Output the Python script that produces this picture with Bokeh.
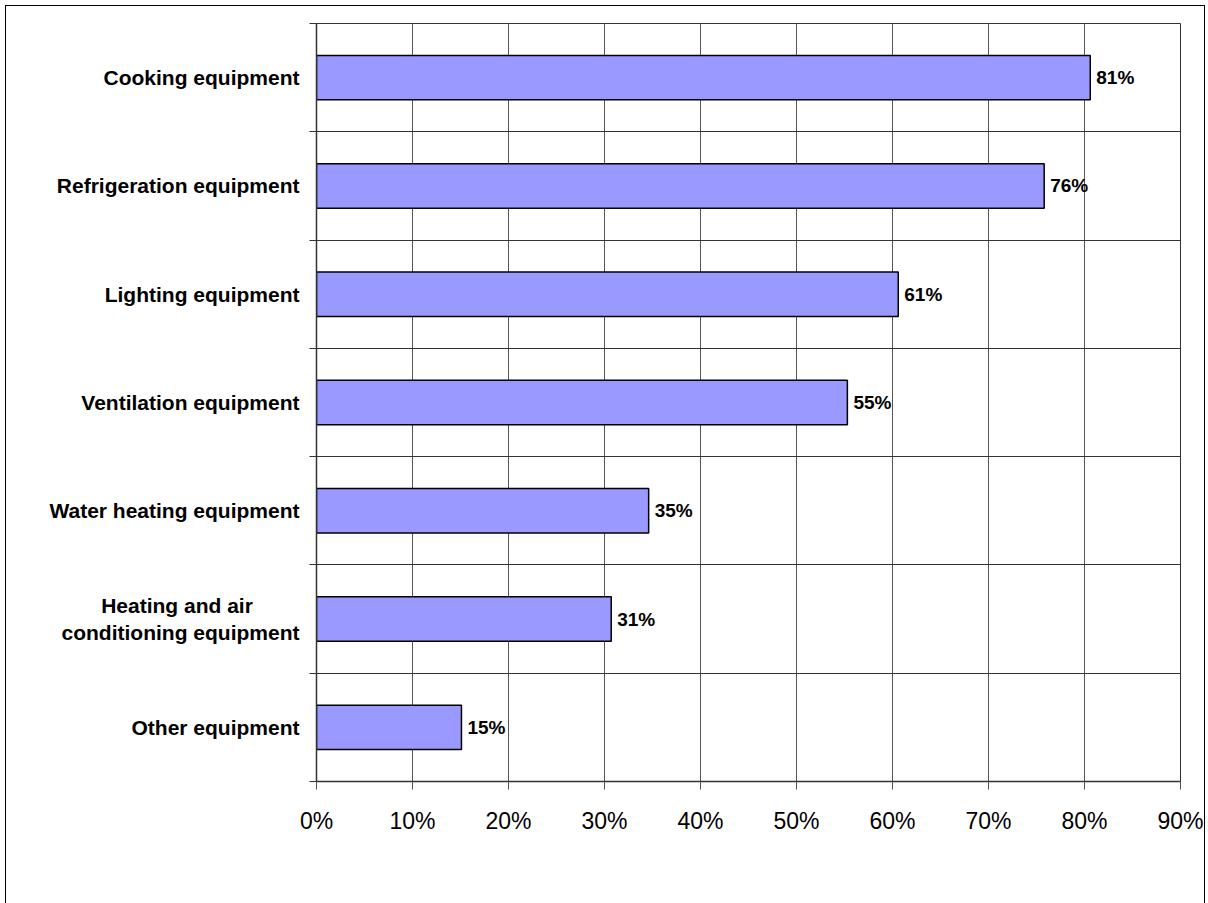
from bokeh.plotting import figure
from bokeh.models import ColumnDataSource, FixedTicker, Range1d
from bokeh.core.properties import value
from bokeh.embed import file_html
from bokeh.resources import INLINE

NBSP = "\u00a0"
categories = ["Cooking equipment", "Refrigeration equipment", "Lighting equipment",
              "Ventilation equipment", "Water heating equipment",
              "Heating and air" + NBSP * 8 + "\nconditioning equipment", "Other equipment"]
shares = [80.6, 75.8, 60.6, 55.3, 34.6, 30.7, 15.1]
x_ticks = [0, 10, 20, 30, 40, 50, 60, 70, 80, 90]
x_tick_labels = ["0%", "10%", "20%", "30%", "40%", "50%", "60%", "70%", "80%", "90%"]

n = len(categories)
ypos = [n - i - 0.5 for i in range(n)]
src = ColumnDataSource(dict(
    y=ypos, v=shares, lab=[f"{round(s):d}%" for s in shares],
))

FONT = "Liberation Sans"

p = figure(width=1200, height=900, output_backend="svg", toolbar_location=None,
           x_range=Range1d(0, 90), y_range=Range1d(0, n),
           min_border_left=310, min_border_right=26, min_border_top=17,
           min_border_bottom=125,
           margin=(5, 5, 5, 5),
           styles={"border": "1px solid black"})
p.outline_line_color = "#333333"
p.outline_line_width = 1
p.background_fill_color = "white"
p.border_fill_color = "white"

p.hbar(y="y", right="v", left=0, height=0.41, source=src,
       fill_color="#9999FF", line_color="black", line_width=1.5)
p.text(x="v", y="y", text="lab", source=src, x_offset=6,
       text_font=value(FONT), text_font_style="bold", text_font_size="19px",
       text_align="left", text_baseline="middle", text_color="black")

# x axis
xa = p.xaxis[0]
xa.ticker = FixedTicker(ticks=x_ticks, minor_ticks=[])
xa.major_label_overrides = {t: l for t, l in zip(x_ticks, x_tick_labels)}
xa.major_label_text_font = FONT
xa.major_label_text_font_size = "23px"
xa.major_label_text_color = "black"
xa.major_tick_out = 8
xa.major_tick_in = 0
xa.major_tick_line_color = "#555555"
xa.axis_line_color = "#333333"
xa.axis_line_width = 1.5
xa.major_label_standoff = 18
xa.minor_tick_line_color = None

# y axis
ya = p.yaxis[0]
ya.ticker = FixedTicker(ticks=ypos, minor_ticks=list(range(n + 1)))
ya.major_label_overrides = {y: c for y, c in zip(ypos, categories)}
ya.major_label_text_font = FONT
ya.major_label_text_font_style = "bold"
ya.major_label_text_font_size = "21px"
ya.major_label_text_color = "black"
ya.major_tick_line_color = None
ya.major_tick_out = 0
ya.major_tick_in = 0
ya.minor_tick_out = 7
ya.minor_tick_in = 0
ya.minor_tick_line_color = "#333333"
ya.axis_line_color = "#333333"
ya.axis_line_width = 1.5
ya.major_label_standoff = 10

p.xgrid.grid_line_color = "#555555"
p.xgrid.grid_line_width = 1
p.ygrid.grid_line_color = None
p.ygrid.minor_grid_line_color = "#333333"
p.ygrid.minor_grid_line_width = 1

open("out.html", "w").write(file_html(p, INLINE))
